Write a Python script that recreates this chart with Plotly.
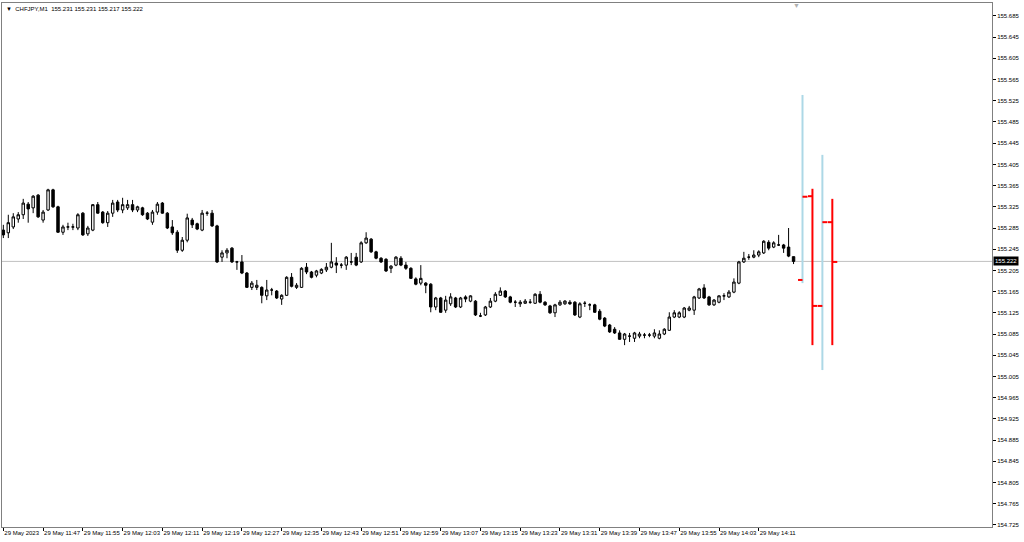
import plotly.graph_objects as go

symbol = 'CHFJPY,M1'

# M1 bars, 29 May 2023 from 11:39
opens = [155.281, 155.276, 155.287, 155.302, 155.310, 155.330, 155.323, 155.347, 155.300, 155.319,
         155.357, 155.325, 155.277, 155.287, 155.287, 155.285, 155.313, 155.274, 155.281, 155.329,
         155.315, 155.295, 155.313, 155.334, 155.319, 155.323, 155.329, 155.319, 155.323, 155.313,
         155.296, 155.315, 155.332, 155.313, 155.287, 155.277, 155.243, 155.262, 155.300, 155.293,
         155.281, 155.313, 155.313, 155.289, 155.230, 155.238, 155.247, 155.221, 155.221, 155.200,
         155.173, 155.173, 155.173, 155.157, 155.168, 155.166, 155.151, 155.158, 155.192, 155.173,
         155.173, 155.211, 155.202, 155.196, 155.200, 155.206, 155.211, 155.219, 155.215, 155.215,
         155.221, 155.230, 155.221, 155.257, 155.264, 155.240, 155.228, 155.226, 155.209, 155.215,
         155.228, 155.215, 155.209, 155.189, 155.181, 155.181, 155.179, 155.136, 155.153, 155.130,
         155.142, 155.153, 155.136, 155.155, 155.147, 155.147, 155.119, 155.121, 155.136, 155.147,
         155.158, 155.166, 155.155, 155.145, 155.142, 155.143, 155.145, 155.143, 155.160, 155.145,
         155.138, 155.125, 155.140, 155.142, 155.145, 155.145, 155.117, 155.143, 155.140, 155.140,
         155.128, 155.115, 155.102, 155.094, 155.087, 155.075, 155.081, 155.077, 155.081, 155.083,
         155.083, 155.081, 155.077, 155.085, 155.092, 155.117, 155.117, 155.117, 155.130, 155.130,
         155.153, 155.172, 155.155, 155.140, 155.145, 155.157, 155.155, 155.164, 155.181, 155.221,
         155.230, 155.230, 155.234, 155.238, 155.258, 155.249, 155.253, 155.253, 155.249, 155.231]
highs = [155.291, 155.310, 155.313, 155.315, 155.340, 155.334, 155.347, 155.349, 155.319, 155.359,
         155.359, 155.327, 155.291, 155.295, 155.293, 155.313, 155.315, 155.289, 155.330, 155.334,
         155.317, 155.317, 155.338, 155.338, 155.342, 155.338, 155.338, 155.327, 155.325, 155.315,
         155.319, 155.334, 155.334, 155.315, 155.300, 155.281, 155.268, 155.312, 155.304, 155.295,
         155.319, 155.317, 155.319, 155.291, 155.243, 155.247, 155.249, 155.223, 155.234, 155.202,
         155.185, 155.187, 155.175, 155.187, 155.172, 155.168, 155.160, 155.194, 155.200, 155.181,
         155.211, 155.219, 155.204, 155.206, 155.209, 155.219, 155.257, 155.230, 155.219, 155.232,
         155.238, 155.238, 155.260, 155.277, 155.266, 155.242, 155.230, 155.228, 155.215, 155.232,
         155.232, 155.221, 155.211, 155.192, 155.215, 155.183, 155.181, 155.155, 155.155, 155.157,
         155.162, 155.155, 155.155, 155.158, 155.158, 155.149, 155.125, 155.138, 155.153, 155.164,
         155.173, 155.168, 155.157, 155.149, 155.149, 155.151, 155.151, 155.162, 155.166, 155.147,
         155.140, 155.142, 155.149, 155.149, 155.149, 155.147, 155.145, 155.147, 155.143, 155.142,
         155.132, 155.117, 155.104, 155.098, 155.092, 155.087, 155.087, 155.089, 155.089, 155.087,
         155.087, 155.094, 155.092, 155.096, 155.126, 155.130, 155.128, 155.136, 155.138, 155.157,
         155.172, 155.179, 155.157, 155.151, 155.158, 155.162, 155.168, 155.190, 155.223, 155.240,
         155.236, 155.243, 155.243, 155.262, 155.262, 155.260, 155.272, 155.255, 155.285, 155.231]
lows = [155.266, 155.266, 155.283, 155.295, 155.302, 155.295, 155.313, 155.304, 155.295, 155.317,
        155.323, 155.276, 155.272, 155.281, 155.281, 155.281, 155.270, 155.270, 155.279, 155.312,
        155.293, 155.287, 155.306, 155.315, 155.313, 155.319, 155.315, 155.315, 155.308, 155.300,
        155.291, 155.310, 155.312, 155.283, 155.272, 155.238, 155.240, 155.258, 155.285, 155.281,
        155.279, 155.308, 155.287, 155.219, 155.221, 155.228, 155.219, 155.206, 155.198, 155.172,
        155.168, 155.168, 155.143, 155.149, 155.158, 155.151, 155.140, 155.157, 155.173, 155.170,
        155.172, 155.198, 155.190, 155.192, 155.198, 155.202, 155.209, 155.200, 155.209, 155.206,
        155.215, 155.213, 155.219, 155.255, 155.238, 155.226, 155.219, 155.202, 155.200, 155.213,
        155.213, 155.206, 155.189, 155.177, 155.177, 155.162, 155.126, 155.130, 155.125, 155.125,
        155.138, 155.134, 155.134, 155.145, 155.145, 155.119, 155.117, 155.119, 155.134, 155.145,
        155.157, 155.153, 155.143, 155.136, 155.136, 155.142, 155.142, 155.142, 155.143, 155.138,
        155.123, 155.117, 155.138, 155.140, 155.140, 155.119, 155.115, 155.136, 155.130, 155.125,
        155.111, 155.098, 155.087, 155.085, 155.074, 155.064, 155.070, 155.070, 155.077, 155.077,
        155.079, 155.077, 155.075, 155.083, 155.091, 155.115, 155.115, 155.115, 155.128, 155.121,
        155.151, 155.151, 155.138, 155.138, 155.143, 155.149, 155.153, 155.162, 155.179, 155.219,
        155.225, 155.228, 155.230, 155.236, 155.243, 155.247, 155.251, 155.238, 155.230, 155.217]
closes = [155.272, 155.295, 155.306, 155.310, 155.332, 155.321, 155.345, 155.306, 155.315, 155.357,
          155.325, 155.277, 155.287, 155.287, 155.287, 155.310, 155.272, 155.285, 155.329, 155.313,
          155.295, 155.313, 155.332, 155.319, 155.329, 155.329, 155.319, 155.325, 155.310, 155.302,
          155.315, 155.330, 155.313, 155.285, 155.276, 155.243, 155.262, 155.304, 155.291, 155.283,
          155.313, 155.313, 155.289, 155.221, 155.238, 155.243, 155.221, 155.221, 155.200, 155.173,
          155.181, 155.177, 155.158, 155.168, 155.168, 155.153, 155.158, 155.192, 155.175, 155.177,
          155.209, 155.202, 155.192, 155.204, 155.207, 155.211, 155.221, 155.215, 155.215, 155.230,
          155.221, 155.215, 155.257, 155.266, 155.240, 155.228, 155.221, 155.204, 155.213, 155.230,
          155.215, 155.209, 155.190, 155.179, 155.190, 155.177, 155.136, 155.153, 155.126, 155.149,
          155.155, 155.136, 155.153, 155.151, 155.157, 155.121, 155.119, 155.136, 155.147, 155.160,
          155.166, 155.155, 155.145, 155.145, 155.145, 155.147, 155.145, 155.160, 155.145, 155.140,
          155.125, 155.140, 155.145, 155.147, 155.142, 155.121, 155.142, 155.143, 155.140, 155.126,
          155.113, 155.100, 155.089, 155.087, 155.075, 155.085, 155.081, 155.087, 155.085, 155.083,
          155.083, 155.087, 155.085, 155.094, 155.117, 155.125, 155.125, 155.134, 155.134, 155.155,
          155.170, 155.153, 155.140, 155.149, 155.157, 155.157, 155.164, 155.183, 155.221, 155.228,
          155.230, 155.234, 155.240, 155.260, 155.247, 155.257, 155.253, 155.247, 155.232, 155.222]

# indicator bars drawn to the right of the last candle
proj_bars = [161, 163, 165, 167]
proj_open = [155.187, 155.345, 155.138, 155.296]
proj_high = [155.536, 155.359, 155.423, 155.340]
proj_low = [155.181, 155.064, 155.017, 155.064]
proj_close = [155.344, 155.138, 155.296, 155.221]
proj_kind = ['range', 'bar', 'range', 'bar']

time_tick_bars = [0, 8, 16, 24, 32, 40, 48, 56, 64, 72, 80, 88, 96, 104, 112, 120, 128, 136, 144, 152]
time_labels = ['29 May 2023', '29 May 11:47', '29 May 11:55', '29 May 12:03', '29 May 12:11',
               '29 May 12:19', '29 May 12:27', '29 May 12:35', '29 May 12:43', '29 May 12:51',
               '29 May 12:59', '29 May 13:07', '29 May 13:15', '29 May 13:23', '29 May 13:31',
               '29 May 13:39', '29 May 13:47', '29 May 13:55', '29 May 14:03', '29 May 14:11']
price_ticks = [154.725, 154.765, 154.805, 154.845, 154.885, 154.925, 154.965, 155.005, 155.045,
               155.085, 155.125, 155.165, 155.205, 155.245, 155.285, 155.325, 155.365, 155.405,
               155.445, 155.485, 155.525, 155.565, 155.605, 155.645, 155.685]

FONT = 'Tahoma, "Liberation Sans", Arial, sans-serif'


def plot_chart():
    fig = go.Figure()

    fig.add_trace(
        go.Candlestick(
            x=list(range(len(opens))), open=opens, high=highs, low=lows, close=closes,
            increasing=dict(line=dict(color='black', width=1), fillcolor='white'),
            decreasing=dict(line=dict(color='black', width=1), fillcolor='black'),
            whiskerwidth=0, hoverinfo='skip', showlegend=False
        )
    )

    # vertical ranges of the indicator bars
    for kind, color in [('range', '#add8e6'), ('bar', '#ff0000')]:
        xs, ys = [], []
        for b, k, h, l in zip(proj_bars, proj_kind, proj_high, proj_low):
            if k == kind:
                xs += [b - 0.2, b - 0.2, None]
                ys += [l, h, None]
        fig.add_trace(go.Scatter(x=xs, y=ys, mode='lines', line=dict(color=color, width=2),
                                 hoverinfo='skip', showlegend=False))

    # open / close ticks, all red
    xs, ys = [], []
    for b, o, c in zip(proj_bars, proj_open, proj_close):
        xs += [b - 1.1, b - 0.2, None, b - 0.2, b + 0.8, None]
        ys += [o, o, None, c, c, None]
    fig.add_trace(go.Scatter(x=xs, y=ys, mode='lines', line=dict(color='#ff0000', width=2),
                             hoverinfo='skip', showlegend=False))

    # current price line + label
    last = closes[-1]
    fig.add_shape(type='line', xref='paper', x0=0, x1=1, y0=last, y1=last,
                  line=dict(color='#c0c0c0', width=1), layer='below')
    fig.add_annotation(xref='paper', x=1, y=last, yref='y', xanchor='left', xshift=1,
                       text=f'{last:.3f}', showarrow=False, bgcolor='black',
                       font=dict(color='white', size=6, family=FONT), borderpad=1)

    # chart shift marker
    fig.add_annotation(x=159.5, xref='x', yref='paper', y=1, yanchor='top', yshift=3,
                       text='▼', showarrow=False, font=dict(color='#b0b0b0', size=7))

    fig.add_annotation(xref='paper', yref='paper', x=0, y=1, xanchor='left', yanchor='top',
                       xshift=2, yshift=-1, showarrow=False,
                       text=f'▼  {symbol}  {opens[-1]:.3f} {highs[-1]:.3f} {lows[-1]:.3f} {closes[-1]:.3f}',
                       font=dict(color='black', size=6, family=FONT))

    fig.update_layout(
        width=1024, height=542,
        margin=dict(l=2, r=32, t=3, b=15),
        paper_bgcolor='white', plot_bgcolor='white',
        font=dict(family=FONT, size=6, color='black'),
        showlegend=False,
        xaxis=dict(range=[-0.27, 198.93], rangeslider=dict(visible=False),
                   tickvals=time_tick_bars, ticktext=time_labels, ticks='outside', ticklen=3,
                   tickcolor='black', tickangle=0, ticklabelposition='outside right',
                   showgrid=False, zeroline=False, showline=True, mirror=True,
                   linecolor='#808080', linewidth=1),
        yaxis=dict(range=[154.7209, 155.7095], side='right', tickvals=price_ticks,
                   tickformat='.3f', ticks='outside', ticklen=3, tickcolor='black',
                   showgrid=False, zeroline=False, showline=True, mirror=True,
                   linecolor='#808080', linewidth=1),
    )
    return fig


fig = plot_chart()
fig.write_html("out.html", config={'displayModeBar': False},
               post_script="document.body.style.margin='0';")
